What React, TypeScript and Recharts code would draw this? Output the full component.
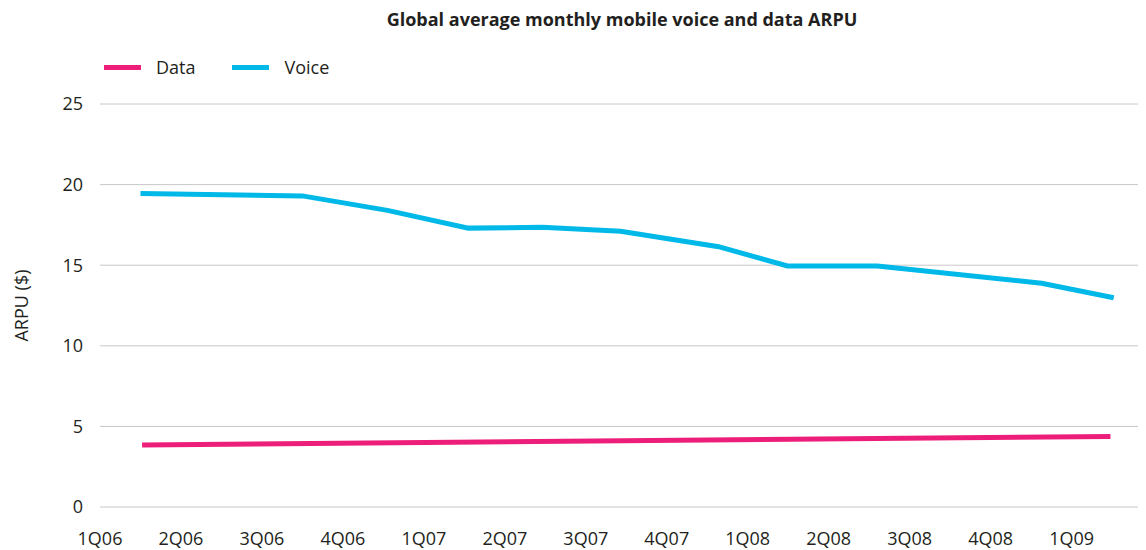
import React from 'react';
import { LineChart, Line, XAxis, YAxis, CartesianGrid, Legend } from 'recharts';

const quarterLabels = ['1Q06', '2Q06', '3Q06', '4Q06', '1Q07', '2Q07', '3Q07', '4Q07', '1Q08', '2Q08', '3Q08', '4Q08', '1Q09'];
const yTicks = [0, 5, 10, 15, 20, 25];

// positions in quarters from 1Q06
const voiceQuarter = [0.5, 2.5, 3.55, 4.55, 5.46, 6.43, 7.64, 8.49, 9.6, 11.63, 12.52];
const voiceValues = [19.45, 19.3, 18.4, 17.3, 17.35, 17.1, 16.15, 14.95, 14.95, 13.88, 12.98];

const dataQuarter = [0.52, 12.48];
const dataValues = [3.85, 4.37];

const voiceSeries = voiceQuarter.map((q, i) => ({ q, value: voiceValues[i] }));
const dataSeries = dataQuarter.map((q, i) => ({ q, value: dataValues[i] }));

const FONT = '"Open Sans", "Noto Sans", sans-serif';
const TEXT = '#231f20';
const PINK = '#ED1E79';
const CYAN = '#00B9E8';

const legendItems = [
  { name: 'Data', color: PINK },
  { name: 'Voice', color: CYAN },
];

const renderLegend = () => (
  <div style={{ display: 'flex', alignItems: 'center', fontFamily: FONT, fontSize: 18, color: TEXT }}>
    {legendItems.map((it) => (
      <div key={it.name} style={{ display: 'flex', alignItems: 'center', marginRight: 37 }}>
        <div style={{ width: 37, height: 5, background: it.color, marginRight: 15 }} />
        <span style={{ lineHeight: '24px' }}>{it.name}</span>
      </div>
    ))}
  </div>
);

export default function App() {
  return (
    <div style={{ position: 'absolute', left: 0, top: 0, width: 1146, height: 550, background: '#fff', fontFamily: FONT }}>
      <div
        style={{
          position: 'absolute',
          top: 7,
          left: 0,
          width: 1244,
          textAlign: 'center',
          fontWeight: 700,
          fontSize: 18,
          color: TEXT,
          fontFamily: FONT,
        }}
      >
        Global average monthly mobile voice and data ARPU
      </div>
      <LineChart width={1146} height={550} margin={{ top: 104, right: 8, bottom: 13, left: 0 }}>
        <CartesianGrid vertical={false} stroke="#c8c8c8" strokeWidth={1} />
        <XAxis
          type="number"
          dataKey="q"
          domain={[0, 12.82]}
          ticks={quarterLabels.map((_, i) => i)}
          tickFormatter={(v: number) => quarterLabels[v] ?? ''}
          axisLine={false}
          tickLine={false}
          tickSize={0}
          tickMargin={25}
          height={30}
          interval={0}
          tick={{ fill: TEXT, fontSize: 18, fontFamily: FONT }}
          allowDuplicatedCategory={false}
        />
        <YAxis
          type="number"
          domain={[0, 25]}
          ticks={yTicks}
          width={100}
          axisLine={false}
          tickLine={false}
          tickSize={0}
          tickMargin={17}
          tick={{ fill: TEXT, fontSize: 18, fontFamily: FONT }}
          label={{
            value: 'ARPU ($)',
            angle: -90,
            position: 'insideLeft',
            offset: 22,
            style: { textAnchor: 'middle', fill: TEXT, fontSize: 18, fontFamily: FONT },
          }}
        />
        <Legend
          verticalAlign="middle"
          align="center"
          layout="horizontal"
          content={renderLegend}
          wrapperStyle={{ top: 55, left: 104, width: 'auto' }}
        />
        <Line
          data={dataSeries}
          dataKey="value"
          name="Data"
          type="linear"
          stroke={PINK}
          strokeWidth={5}
          dot={false}
          activeDot={false}
          isAnimationActive={false}
        />
        <Line
          data={voiceSeries}
          dataKey="value"
          name="Voice"
          type="linear"
          stroke={CYAN}
          strokeWidth={5}
          dot={false}
          activeDot={false}
          isAnimationActive={false}
        />
      </LineChart>
    </div>
  );
}
